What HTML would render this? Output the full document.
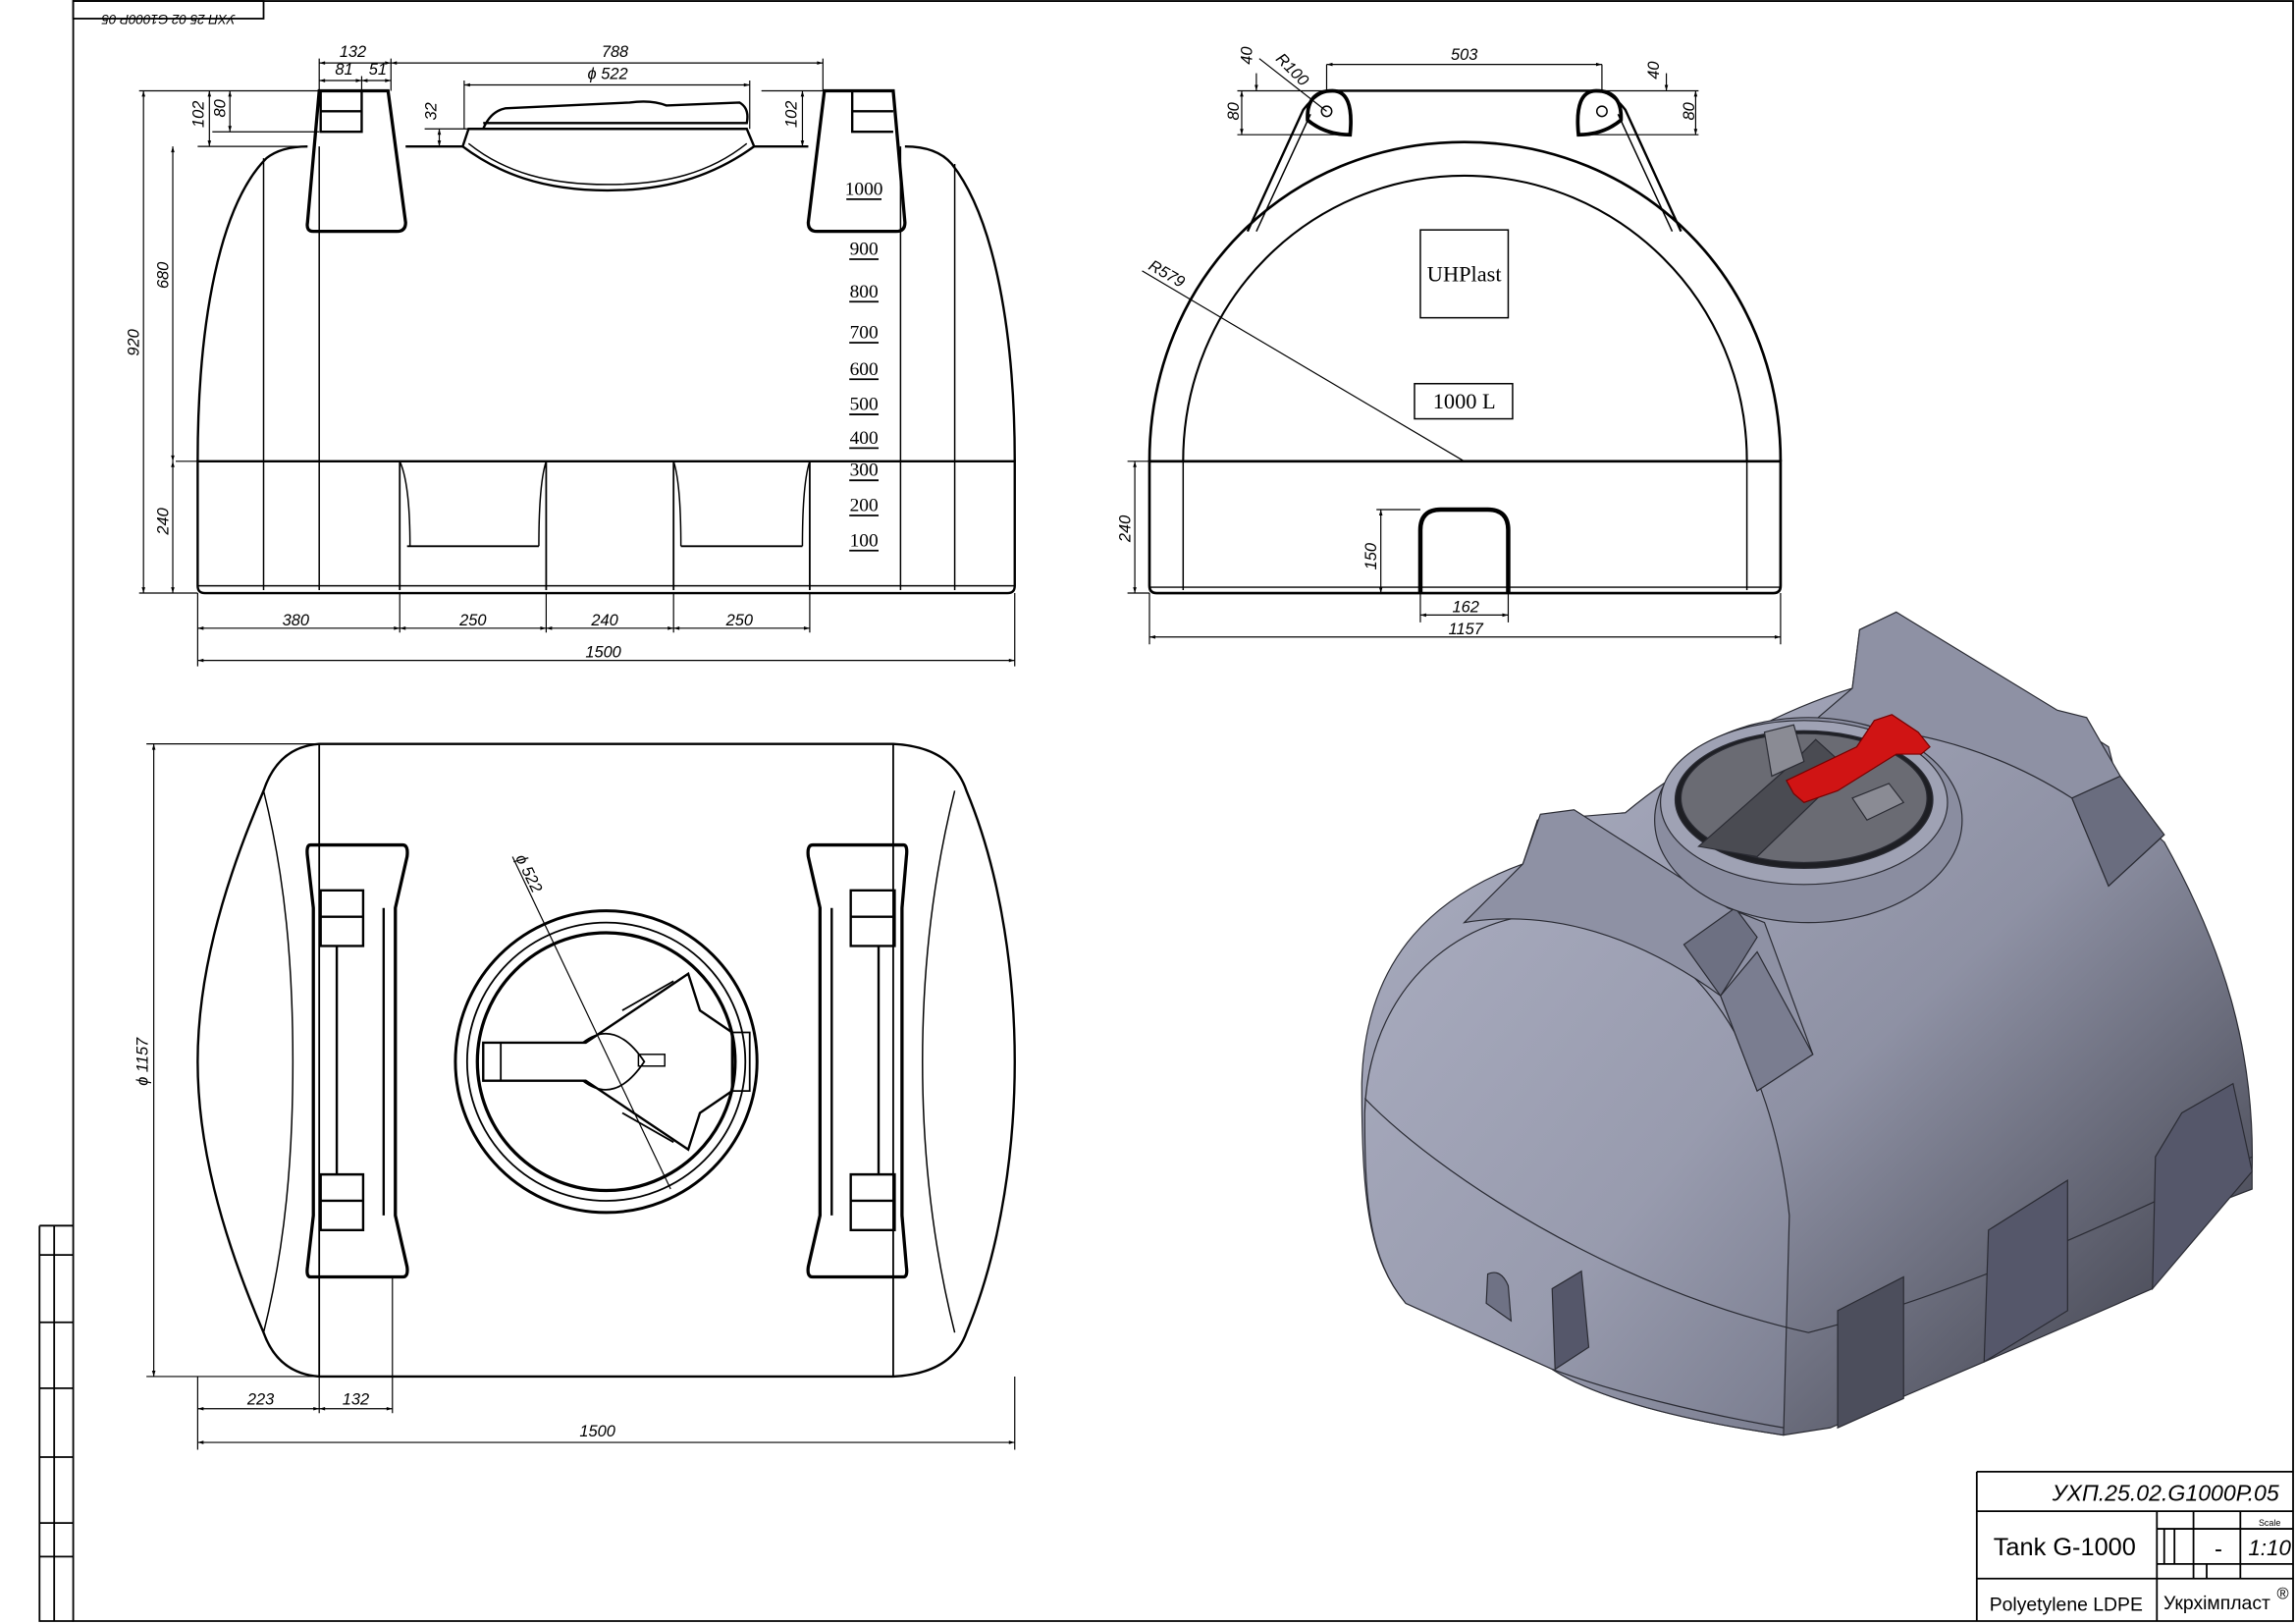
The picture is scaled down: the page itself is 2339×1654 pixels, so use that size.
<!DOCTYPE html>
<html><head><meta charset="utf-8"><style>
html,body{margin:0;padding:0;background:#fff}
svg{display:block}
text{font-family:"Liberation Sans",sans-serif;font-style:italic;fill:#000}
.s{font-family:"Liberation Serif",serif;font-style:normal}
</style></head><body>
<svg width="2339" height="1654" viewBox="0 0 1568 1109" preserveAspectRatio="none" xmlns="http://www.w3.org/2000/svg">
<defs>
<marker id="a" viewBox="0 0 10 10" refX="10" refY="5" markerWidth="7" markerHeight="5" orient="auto-start-reverse"><path d="M0,2 L10,5 L0,8 Z" fill="#000"/></marker>
<linearGradient id="g1" x1="0" y1="0" x2="1" y2="1"><stop offset="0" stop-color="#b2b5c8"/><stop offset="0.55" stop-color="#8e91a4"/><stop offset="1" stop-color="#34353f"/></linearGradient>
<linearGradient id="g2" x1="0" y1="0" x2="1" y2="1"><stop offset="0" stop-color="#a8abbe"/><stop offset="0.6" stop-color="#989bae"/><stop offset="1" stop-color="#7a7d8f"/></linearGradient>
</defs>
<rect width="1568" height="1109" fill="#fff"/>
<g fill="none" stroke="#000" stroke-width="1.2">
<path d="M50,0.7 H1566 V1107 H50 Z"/>
<rect x="50" y="0.7" width="130" height="12"/>
<path d="M27,837 H50 M27,857 H50 M27,903 H50 M27,948 H50 M27,995 H50 M27,1040 H50 M27,1063 H50 M27,837 V1107 H50 M37,837 V1107"/>
<path d="M1350,1005 H1566 M1350,1005 V1107 M1350,1032 H1566 M1350,1078 H1566 M1473,1032 V1107 M1498,1032 V1078 M1530,1032 V1078 M1473,1044 H1566 M1478,1044 V1068 M1485,1044 V1068 M1473,1068 H1566 M1507,1068 V1078"/>
</g>
<text x="115" y="4" font-size="9" transform="rotate(180 115 7)" text-anchor="middle">УХП 25 02 G1000Р 05</text>
<text x="1479" y="1025" font-size="15.5" text-anchor="middle">УХП.25.02.G1000Р.05</text>
<text x="1410" y="1062" font-size="17" style="font-style:normal" text-anchor="middle">Tank G-1000</text>
<text x="1515" y="1063" font-size="16" text-anchor="middle" style="font-style:normal">-</text>
<text x="1550" y="1042" font-size="6" text-anchor="middle" style="font-style:normal">Scale</text>
<text x="1550" y="1062" font-size="15" text-anchor="middle">1:10</text>
<text x="1411" y="1100" font-size="13" style="font-style:normal" text-anchor="middle">Polyetylene LDPE</text>
<text x="1514" y="1099" font-size="13" style="font-style:normal" text-anchor="middle">Укрхімпласт</text>
<text x="1559" y="1092" font-size="11" style="font-style:normal" text-anchor="middle">®</text>

<!-- FRONT VIEW -->
<g fill="none" stroke="#000" stroke-width="1.6">
<path d="M135,315 C135,220 150,140 182,108 Q192,100 210,100 M277,100 H316 M515,100 H552 M618,100 Q640,100 650,112 C680,150 693,230 693,315"/>
<path d="M135,315 V400 Q135,405 140,405 H688 Q693,405 693,400 V315 Z"/>
<path d="M135,400 H693" stroke-width="1"/>
<path d="M180,108 V403 M218,100 V403 M615,100 V403 M652,112 V403" stroke-width="1"/>
<path d="M273,315 V403 M373,315 V403 M460,315 V403 M553,315 V403 M278,373 H368 M465,373 H548" stroke-width="1.2"/>
<path d="M273,315 Q280,330 280,373 M368,373 Q368,330 373,315 M460,315 Q465,330 465,373 M548,373 Q548,330 553,315" stroke-width="1"/>
<path d="M218,62 H265 L277,152 Q277,158 271,158 H214 Q209,158 210,152 Z" stroke-width="2.2"/>
<path d="M219,62 V90 H247 V62 M219,76 H247" stroke-width="1.6"/>
<path d="M563,62 H610 L618,152 Q618,158 612,158 H558 Q552,158 552,152 Z" stroke-width="2.2"/>
<path d="M582,62 V90 H610 M582,76 H610" stroke-width="1.6"/>
<path d="M316,100 L320,88 H510 L515,100 C490,118 460,130 415,130 C370,130 340,118 316,100 Z"/>
<path d="M320,98 C345,118 375,126 415,126 C455,126 485,118 510,98" stroke-width="1"/>
<path d="M330,88 Q335,76 345,74 L430,70 Q445,68 455,72 L505,70 Q512,74 510,84 L330,84" stroke-width="1.6"/>
</g>
<g font-size="13">
<text x="590" y="133" text-anchor="middle" class="s">1000</text>
<text x="590" y="174" text-anchor="middle" class="s">900</text>
<text x="590" y="203" text-anchor="middle" class="s">800</text>
<text x="590" y="231" text-anchor="middle" class="s">700</text>
<text x="590" y="256" text-anchor="middle" class="s">600</text>
<text x="590" y="280" text-anchor="middle" class="s">500</text>
<text x="590" y="303" text-anchor="middle" class="s">400</text>
<text x="590" y="325" text-anchor="middle" class="s">300</text>
<text x="590" y="349" text-anchor="middle" class="s">200</text>
<text x="590" y="373" text-anchor="middle" class="s">100</text>
</g>
<path d="M578,136H602M580,177H600M580,206H600M580,234H600M580,259H600M580,283H600M580,306H600M580,328H600M580,352H600M580,376H600" stroke="#000" stroke-width="1.2"/>
<g stroke="#000" stroke-width="0.8" fill="none">
<path d="M218,40 V62 M267,40 V62 M247,52 V62 M562,40 V62 M317,55 V88 M512,55 V88"/>
<path d="M218,43 H267" marker-start="url(#a)" marker-end="url(#a)"/>
<path d="M267,43 H562" marker-start="url(#a)" marker-end="url(#a)"/>
<path d="M218,55 H247" marker-start="url(#a)" marker-end="url(#a)"/>
<path d="M247,55 H267" marker-start="url(#a)" marker-end="url(#a)"/>
<path d="M317,58 H512" marker-start="url(#a)" marker-end="url(#a)"/>
<path d="M95,62 H218 M135,100 H210 M145,90 H218 M95,405 H135 M120,315 H135 M290,88 H320 M520,62 H563 M520,100 H552"/>
<path d="M98,62 V405" marker-start="url(#a)" marker-end="url(#a)"/>
<path d="M118,100 V315" marker-start="url(#a)" marker-end="url(#a)"/>
<path d="M118,315 V405" marker-start="url(#a)" marker-end="url(#a)"/>
<path d="M143,62 V100" marker-start="url(#a)" marker-end="url(#a)"/>
<path d="M157,62 V90" marker-start="url(#a)" marker-end="url(#a)"/>
<path d="M300,88 V100" marker-start="url(#a)" marker-end="url(#a)"/>
<path d="M548,62 V100" marker-start="url(#a)" marker-end="url(#a)"/>
<path d="M135,405 V455 M273,405 V432 M373,405 V432 M460,405 V432 M553,405 V432 M693,405 V455"/>
<path d="M135,429 H273" marker-start="url(#a)" marker-end="url(#a)"/>
<path d="M273,429 H373" marker-start="url(#a)" marker-end="url(#a)"/>
<path d="M373,429 H460" marker-start="url(#a)" marker-end="url(#a)"/>
<path d="M460,429 H553" marker-start="url(#a)" marker-end="url(#a)"/>
<path d="M135,451 H693" marker-start="url(#a)" marker-end="url(#a)"/>
</g>
<g font-size="11">
<text x="241" y="39" text-anchor="middle">132</text>
<text x="420" y="39" text-anchor="middle">788</text>
<text x="235" y="51" text-anchor="middle">81</text>
<text x="258" y="51" text-anchor="middle">51</text>
<text x="415" y="54" text-anchor="middle">ϕ 522</text>
<text x="202" y="427" text-anchor="middle">380</text>
<text x="323" y="427" text-anchor="middle">250</text>
<text x="413" y="427" text-anchor="middle">240</text>
<text x="505" y="427" text-anchor="middle">250</text>
<text x="412" y="449" text-anchor="middle">1500</text>
<text transform="translate(95,234) rotate(-90)" text-anchor="middle">920</text>
<text transform="translate(115,188) rotate(-90)" text-anchor="middle">680</text>
<text transform="translate(115,356) rotate(-90)" text-anchor="middle">240</text>
<text transform="translate(139,78) rotate(-90)" text-anchor="middle">102</text>
<text transform="translate(154,74) rotate(-90)" text-anchor="middle">80</text>
<text transform="translate(298,76) rotate(-90)" text-anchor="middle">32</text>
<text transform="translate(544,78) rotate(-90)" text-anchor="middle">102</text>
</g>

<!-- SIDE VIEW -->
<g fill="none" stroke="#000" stroke-width="1.8">
<path d="M785,315 C785,190 880,97 1000,97 C1120,97 1216,190 1216,315"/>
<path d="M808,315 C808,205 895,120 1000,120 C1105,120 1193,205 1193,315" stroke-width="1.4"/>
<path d="M785,315 V400 Q785,405 790,405 H1211 Q1216,405 1216,400 V315 Z"/>
<path d="M785,401 H1216 M808,315 V403 M1193,315 V403" stroke-width="1"/>
<path d="M852,158 L890,75 Q900,62 910,62 H1090 Q1100,62 1110,75 L1148,158" stroke-width="1.6"/>
<path d="M858,158 L895,78 M1142,158 L1105,78" stroke-width="1"/>
<path d="M893,82 Q892,62 910,62 Q925,62 922,92 Q905,92 893,82 Z M1107,82 Q1108,62 1090,62 Q1075,62 1078,92 Q1095,92 1107,82 Z" stroke-width="2.5"/>
<circle cx="906" cy="76" r="3.5" stroke-width="1"/><circle cx="1094" cy="76" r="3.5" stroke-width="1"/>
<path d="M920,62 H1080" stroke-width="1.2"/>
<path d="M970,405 V362 Q970,348 984,348 H1016 Q1030,348 1030,362 V405" stroke-width="3"/>
<rect x="970" y="157" width="60" height="60" stroke-width="1"/>
<rect x="966" y="262" width="67" height="24" stroke-width="1"/>
</g>
<text x="1000" y="192" font-size="15" class="s" text-anchor="middle">UHPlast</text>
<text x="1000" y="279" font-size="15" class="s" text-anchor="middle">1000 L</text>
<g stroke="#000" stroke-width="0.8" fill="none">
<path d="M780,185 L1000,315"/>
<path d="M906,44 V62 M1094,44 V62 M845,62 H905 M845,92 H915 M1095,62 H1160 M1085,92 H1160 M860,40 L906,76 M770,315 H785 M770,405 H785 M940,348 H970 M970,405 V425 M1030,405 V425 M785,405 V440 M1216,405 V440"/>
<path d="M906,44 H1094" marker-start="url(#a)" marker-end="url(#a)"/>
<path d="M848,62 V92" marker-start="url(#a)" marker-end="url(#a)"/>
<path d="M1158,62 V92" marker-start="url(#a)" marker-end="url(#a)"/>
<path d="M858,50 V62" marker-end="url(#a)"/>
<path d="M1138,50 V62" marker-end="url(#a)"/>
<path d="M775,315 V405" marker-start="url(#a)" marker-end="url(#a)"/>
<path d="M943,348 V405" marker-start="url(#a)" marker-end="url(#a)"/>
<path d="M970,420 H1030" marker-start="url(#a)" marker-end="url(#a)"/>
<path d="M785,435 H1216" marker-start="url(#a)" marker-end="url(#a)"/>
</g>
<g font-size="11">
<text x="1000" y="41" text-anchor="middle">503</text>
<text transform="translate(880,50) rotate(45)" text-anchor="middle">R100</text>
<text transform="translate(795,190) rotate(30)" text-anchor="middle">R579</text>
<text transform="translate(855,38) rotate(-90)" text-anchor="middle">40</text>
<text transform="translate(1133,48) rotate(-90)" text-anchor="middle">40</text>
<text transform="translate(846,76) rotate(-90)" text-anchor="middle">80</text>
<text transform="translate(1157,76) rotate(-90)" text-anchor="middle">80</text>
<text transform="translate(772,361) rotate(-90)" text-anchor="middle">240</text>
<text transform="translate(940,380) rotate(-90)" text-anchor="middle">150</text>
<text x="1001" y="418" text-anchor="middle">162</text>
<text x="1001" y="433" text-anchor="middle">1157</text>
</g>

<!-- TOP VIEW -->
<g fill="none" stroke="#000" stroke-width="1.6">
<path d="M218,508 H610 Q650,510 660,540 C685,600 693,670 693,725 C693,780 685,850 660,910 Q650,938 610,940 H218 Q190,938 180,910 C150,840 135,780 135,725 C135,670 150,610 180,540 Q190,510 218,508 Z"/>
<path d="M218,508 V940 M610,508 V940" stroke-width="1.2"/>
<path d="M180,540 C195,600 200,660 200,725 C200,790 195,850 180,910 M652,540 C637,600 630,660 630,725 C630,790 637,850 652,910" stroke-width="1"/>
<path d="M212,577 H275 Q279,577 278,585 L270,620 V830 L278,865 Q279,872 275,872 H212 Q209,872 210,865 L214,830 V620 L210,585 Q209,577 212,577 Z" stroke-width="2.2"/>
<path d="M219,608 H248 V646 H219 Z M219,626 H248 M219,802 H248 V840 H219 Z M219,820 H248 M230,646 V802 M262,620 V830" stroke-width="1.6"/>
<path d="M555,577 H617 Q620,577 619,585 L616,620 V830 L619,865 Q620,872 617,872 H555 Q551,872 552,865 L560,830 V620 L552,585 Q551,577 555,577 Z" stroke-width="2.2"/>
<path d="M581,608 H611 V646 H581 Z M581,626 H611 M581,802 H611 V840 H581 Z M581,820 H611 M600,646 V802 M568,620 V830" stroke-width="1.6"/>
<circle cx="414" cy="725" r="103" stroke-width="2"/>
<circle cx="414" cy="725" r="95" stroke-width="1.2"/>
<circle cx="414" cy="725" r="88" stroke-width="2.2"/>
<path d="M330,712 H400 L470,665 L478,690 L500,705 V745 L478,760 L470,785 L400,738 H330 Z" stroke-width="1.6"/>
<path d="M342,712 V738 M398,712 Q420,695 440,725 Q420,755 398,738 M425,690 L460,670 M425,760 L460,780 M500,705 H512 V745 H500" stroke-width="1.2"/>
<rect x="436" y="720" width="18" height="8" stroke-width="1"/>
</g>
<g stroke="#000" stroke-width="0.8" fill="none">
<path d="M350,585 L458,812"/>
<path d="M100,508 H218 M100,940 H218 M135,940 V990 M218,940 V965 M268,872 V965 M693,940 V990"/>
<path d="M105,508 V940" marker-start="url(#a)" marker-end="url(#a)"/>
<path d="M135,962 H218" marker-start="url(#a)" marker-end="url(#a)"/>
<path d="M218,962 H268" marker-start="url(#a)" marker-end="url(#a)"/>
<path d="M135,985 H693" marker-start="url(#a)" marker-end="url(#a)"/>
</g>
<g font-size="11">
<text transform="translate(358,598) rotate(64)" text-anchor="middle">ϕ 522</text>
<text transform="translate(101,725) rotate(-90)" text-anchor="middle">ϕ 1157</text>
<text x="178" y="959" text-anchor="middle">223</text>
<text x="243" y="959" text-anchor="middle">132</text>
<text x="408" y="981" text-anchor="middle">1500</text>
</g>

<!-- 3D VIEW -->
<g stroke="#2a2b33" stroke-width="0.8">
<path d="M930,740 C932,650 985,610 1040,590 L1050,560 L1110,555 C1140,530 1200,490 1265,470 L1270,430 L1295,418 L1440,510 L1450,550 L1478,575 C1520,650 1540,720 1538,800 L1538,812 L1478,835 L1470,880 L1355,930 L1250,975 L1218,980 C1150,970 1090,955 1060,935 L960,890 C935,860 930,820 930,740 Z" fill="url(#g1)"/>
<path d="M932,760 C935,665 1010,615 1080,625 C1160,640 1210,720 1222,830 L1218,980 C1150,970 1090,955 1060,935 L960,890 C935,860 932,820 932,760 Z" fill="url(#g2)"/>
<path d="M932,750 C980,800 1100,880 1235,910 C1350,880 1450,830 1538,790" fill="none"/>
<path d="M1060,935 C1100,950 1160,965 1218,975" fill="none"/>
<path d="M1355,930 L1358,840 L1412,806 L1412,895 Z M1470,880 L1472,790 L1490,760 L1525,740 L1538,800 Z M1062,935 L1060,880 L1080,868 L1085,920 Z" fill="#55576a"/>
<path d="M1255,975 L1255,895 L1300,872 L1300,955 Z" fill="#4c4e5c"/>
<path d="M1015,890 L1016,870 Q1025,866 1030,878 L1032,902 Z" fill="#6f7285"/>
<path d="M1000,630 L1040,590 L1052,556 L1075,553 L1180,620 L1205,630 L1238,720 L1200,745 L1175,680 C1120,640 1060,620 1000,630 Z" fill="#8e91a4"/>
<path d="M1150,645 L1185,620 L1200,640 L1175,680 Z" fill="#6d7082"/>
<path d="M1175,680 L1200,650 L1238,720 L1200,745 Z" fill="#7a7d90"/>
<path d="M1230,500 L1265,470 L1270,430 L1295,418 L1405,485 L1425,490 L1448,530 L1478,570 L1440,605 L1415,545 C1360,510 1290,490 1230,500 Z" fill="#8e91a4"/>
<path d="M1415,545 L1448,530 L1478,570 L1440,605 Z" fill="#6a6d7f"/>
<ellipse cx="1235" cy="560" rx="105" ry="70" fill="#8a8da0"/>
<ellipse cx="1232" cy="548" rx="98" ry="56" fill="#9fa2b4"/>
<ellipse cx="1232" cy="546" rx="88" ry="47" fill="#1e1f24"/>
<ellipse cx="1232" cy="545" rx="84" ry="44" fill="#6a6b73"/>
<path d="M1160,578 L1220,525 L1240,505 L1262,525 L1200,585 Z" fill="#4a4b52"/>
<path d="M1205,500 L1225,495 L1232,520 L1210,530 Z M1265,545 L1290,535 L1300,548 L1275,560 Z" fill="#8a8b94"/>
<path d="M1220,533 L1268,510 L1280,492 L1292,488 L1310,500 L1318,510 L1312,515 L1295,515 L1255,540 L1232,548 L1225,542 Z" fill="#d01414" stroke="#700"/>
</g>
</svg>
</body></html>
